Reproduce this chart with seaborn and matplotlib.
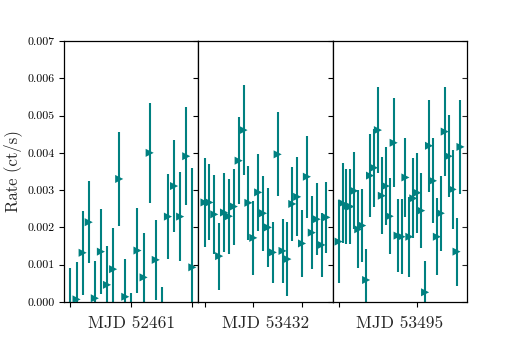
import numpy as np
import seaborn as sns
import matplotlib.pyplot as plt
from matplotlib.ticker import FormatStrFormatter

# time bins (ks from start of each observation)
t_52461 = [0, 1, 2, 3, 4, 5, 6, 7, 8, 9, 10, 11, 12, 13, 14, 15, 16, 17, 18, 19, 20]
rate_52461 = [-0.0002, 0.00007, 0.00132, 0.00214, 0.0001, 0.00135, 0.00046, 0.00088, 0.0033, 0.00014,
              -0.0008, 0.00138, 0.00066, 0.0040, 0.00113, -0.0006, 0.00229, 0.00311, 0.00229, 0.00391, 0.00093]
err_52461 = [0.0011, 0.001, 0.00112, 0.0011, 0.001, 0.00114, 0.00104, 0.0011, 0.00125, 0.001,
             0.00105, 0.00114, 0.00118, 0.00134, 0.00107, 0.001, 0.00113, 0.00123, 0.0012, 0.00131, 0.00267]

t_53432 = [0, 1, 2, 3, 4, 5, 6, 7, 8, 9, 10, 11, 12, 13, 14, 15, 16, 17, 18, 19, 20, 21, 22, 23, 24, 25]
rate_53432 = [0.00267, 0.00267, 0.00235, 0.00123, 0.0024, 0.0023, 0.00256, 0.00379, 0.00461, 0.00266,
              0.00172, 0.00294, 0.00238, 0.002, 0.00133, 0.00396, 0.00137, 0.00115, 0.00263, 0.00282,
              0.00157, 0.00336, 0.00186, 0.00222, 0.00153, 0.00227]
err_53432 = [0.0012, 0.00102, 0.00105, 0.0009, 0.00105, 0.001, 0.00102, 0.00116, 0.0012, 0.001,
             0.001, 0.00103, 0.001, 0.00105, 0.00082, 0.00113, 0.00085, 0.001, 0.001, 0.00106,
             0.0009, 0.0011, 0.00097, 0.00096, 0.00086, 0.00095]

t_53495 = [0, 1, 2, 3, 4, 5, 6, 7, 8, 9, 10, 11, 12, 13, 14, 15, 16, 17, 18, 19, 20, 21, 22, 23,
           24, 25, 26, 27, 28, 29, 30, 31]
rate_53495 = [0.00162, 0.00265, 0.00256, 0.00256, 0.00298, 0.00195, 0.00205, 0.00059, 0.00339, 0.0036,
              0.00461, 0.00285, 0.00311, 0.0023, 0.00427, 0.00178, 0.00175, 0.00334, 0.00175, 0.00278,
              0.00293, 0.00245, 0.00026, 0.00419, 0.00325, 0.00175, 0.00238, 0.00457, 0.00391, 0.00302,
              0.00135, 0.00416]
err_53495 = [0.00112, 0.00107, 0.001, 0.001, 0.00103, 0.00105, 0.00097, 0.00083, 0.00111, 0.00104,
             0.00115, 0.00103, 0.00105, 0.00102, 0.00119, 0.00098, 0.001, 0.00105, 0.00107, 0.00107,
             0.00107, 0.001, 0.00084, 0.00123, 0.00114, 0.00103, 0.001, 0.00119, 0.0011, 0.00105,
             0.00091, 0.00127]

labels = ['MJD 52461', 'MJD 53432', 'MJD 53495']
xticks = [[0, 10, 20], [0, 10, 20], [0, 20]]

if __name__ == "__main__":
    sns.set_theme(style='ticks')
    plt.rcParams['font.family'] = 'serif'
    plt.rcParams['font.serif'] = ['cmr10', 'DejaVu Serif']
    plt.rcParams['mathtext.fontset'] = 'cm'
    plt.rcParams['axes.formatter.use_mathtext'] = True
    plt.rcParams['axes.edgecolor'] = 'black'

    fig, axes = plt.subplots(1, 3, figsize=(5.19, 3.46), dpi=100, sharey=True)
    fig.subplots_adjust(left=0.124, right=0.899, top=0.8815, bottom=0.1272, wspace=0)

    sets = [(t_52461, rate_52461, err_52461),
            (t_53432, rate_53432, err_53432),
            (t_53495, rate_53495, err_53495)]

    for ax, (t, r, e), lab, xt in zip(axes, sets, labels, xticks):
        ax.errorbar(t, r, yerr=e, fmt='none', ecolor='teal', elinewidth=1.5, capsize=0)
        sns.scatterplot(x=t, y=r, marker='>', color='teal', s=34, edgecolor='none', ax=ax, zorder=3)
        ax.set_xticks(xt)
        ax.set_xticklabels([])
        ax.set_xlabel(lab, fontsize=12.5, labelpad=3)
        ax.tick_params(axis='both', colors='black', length=3.5, width=0.8)
        for sp in ax.spines.values():
            sp.set_color('black')
            sp.set_linewidth(0.9)

    axes[0].set_ylim(0, 0.007)
    axes[0].set_yticks(np.linspace(0, 0.007, 8))
    axes[0].yaxis.set_major_formatter(FormatStrFormatter('%.3f'))
    axes[0].tick_params(axis='y', labelsize=8.5)
    axes[0].set_ylabel('Rate (ct/s)', fontsize=12)

    sec = axes[2].secondary_yaxis('right')
    sec.set_yticks(np.linspace(0, 0.007, 8))
    sec.tick_params(direction='in', labelright=False, length=3.5, width=0.8)
    sec.spines['right'].set_visible(False)

    plt.savefig('out.png', dpi=100)
